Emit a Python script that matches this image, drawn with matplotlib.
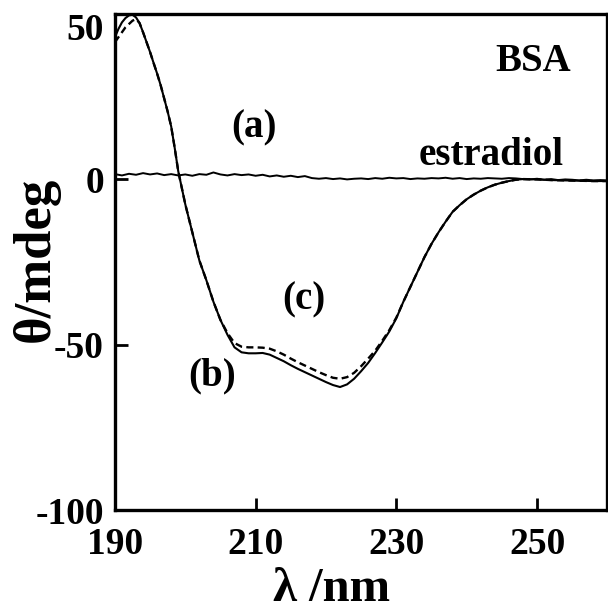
import matplotlib
matplotlib.use("Agg")
import matplotlib.pyplot as plt
import matplotlib.transforms as mtransforms

# ---- data ----
wl_b = [190, 190.5, 191, 191.5, 192, 192.5, 193, 193.5, 194, 194.5, 195, 195.5, 196, 196.5,
        197, 197.5, 198, 198.5, 199, 199.5, 200, 201, 202, 203, 204, 205, 206, 207, 208, 209,
        210, 211, 212, 213, 214, 215, 216, 217, 218, 219, 220, 221, 222, 223, 224, 225, 226,
        227, 228, 229, 230, 231, 232, 233, 234, 235, 236, 237, 238, 239, 240, 241, 242, 243,
        244, 245, 246, 247, 248, 250, 252, 254, 256, 258, 260]
theta_b = [43.0, 45.5, 47.5, 48.8, 49.6, 49.8, 49.0, 47.3, 44.5, 41.5, 38.5, 35.2, 32.0, 28.5,
           24.5, 20.5, 16.0, 9.5, 2.5, -2.5, -7.5, -16.0, -24.5, -30.5, -37.0, -42.5, -47.0,
           -50.8, -52.3, -52.6, -52.6, -52.5, -53.0, -54.0, -55.0, -56.2, -57.3, -58.3, -59.3,
           -60.3, -61.3, -62.2, -62.8, -62.0, -60.3, -58.0, -55.5, -52.5, -49.3, -46.0, -42.0,
           -37.0, -32.5, -28.0, -23.5, -19.5, -16.0, -12.8, -9.8, -7.8, -6.0, -4.6, -3.4, -2.4,
           -1.6, -1.0, -0.5, -0.1, 0.1, 0.0, -0.2, -0.3, -0.4, -0.5, -0.5]

wl_c = [190, 190.5, 191, 191.5, 192, 192.5, 193, 193.5, 194, 194.5, 195, 195.5, 196, 196.5,
        197, 197.5, 198, 198.5, 199, 199.5, 200, 201, 202, 203, 204, 205, 206, 207, 208, 209,
        210, 211, 212, 213, 214, 215, 216, 217, 218, 219, 220, 221, 222, 223, 224, 225, 226,
        227, 228, 229, 230, 231, 232, 233, 234, 235, 236, 237, 238, 239, 240, 241, 242, 243,
        244, 245, 246, 247, 248, 250, 252, 254, 256, 258, 260]
theta_c = [41.5, 43.0, 44.5, 46.0, 47.0, 48.0, 48.5, 47.3, 44.5, 41.5, 38.5, 35.2, 32.0, 28.5,
           24.5, 20.5, 16.0, 9.5, 2.5, -2.5, -7.5, -16.0, -24.5, -30.5, -37.0, -42.5, -46.5,
           -49.5, -50.6, -50.8, -50.8, -50.9, -51.2, -52.0, -53.0, -54.2, -55.3, -56.3, -57.3,
           -58.3, -59.2, -60.0, -60.3, -59.8, -58.5, -56.5, -54.2, -51.8, -48.8, -45.6, -41.8,
           -37.0, -32.5, -28.0, -23.5, -19.5, -16.0, -12.8, -9.8, -7.8, -6.0, -4.6, -3.4, -2.4,
           -1.6, -1.0, -0.5, -0.1, 0.1, 0.0, -0.2, -0.3, -0.4, -0.5, -0.5]

wl_a = list(range(190, 261))
theta_a = [1.6, 1.2, 1.7, 1.4, 1.9, 1.5, 1.8, 1.3, 1.6, 1.2, 1.5, 1.1, 1.6, 1.4, 2.1, 1.5,
           1.2, 1.6, 1.3, 1.5, 1.1, 1.4, 0.9, 1.2, 0.8, 1.1, 0.7, 1.0, 0.4, 0.2, 0.4, 0.1,
           0.3, 0.0, 0.2, 0.3, 0.1, 0.4, 0.2, 0.5, 0.3, 0.4, 0.1, 0.3, 0.2, 0.4, 0.3, 0.5,
           0.2, 0.4, 0.1, 0.3, 0.2, 0.4, 0.3, 0.2, 0.4, 0.3, 0.1, 0.0, 0.2, -0.1, 0.1, -0.2,
           0.0, -0.1, -0.3, -0.1, -0.3, -0.2, -0.3]

xticks = [190, 210, 230, 250]
yticks = [-100, -50, 0, 50]

# ---- figure ----
plt.rcParams['font.family'] = ['Liberation Serif', 'DejaVu Serif']
plt.rcParams['font.weight'] = 'bold'

fig = plt.figure(figsize=(6.08, 6.13), dpi=100)
ax = fig.add_axes([0.189, 0.168, 0.81, 0.809])

ax.plot(wl_a, theta_a, color='black', lw=1.4)
ax.plot(wl_b, theta_b, color='black', lw=1.5)
ax.plot(wl_c, theta_c, color='black', lw=1.7, linestyle=(0, (3, 1.8)))

ax.set_xlim(190, 260)
ax.set_ylim(-100, 50)
ax.set_xticks(xticks)
ax.set_yticks(yticks)
ax.set_xticklabels([str(v) for v in xticks], fontsize=27, fontweight='bold')
ax.set_yticklabels([str(v) for v in yticks], fontsize=27, fontweight='bold')
ax.tick_params(direction='in', length=9, width=2, pad=8)
ax.tick_params(axis='x', pad=12)

# nudge the top y label down a bit as in the reference
lbl50 = ax.get_yticklabels()[-1]
lbl50.set_transform(lbl50.get_transform() + mtransforms.ScaledTranslation(0, -12/100, fig.dpi_scale_trans))

for s in ax.spines.values():
    s.set_linewidth(2.4)

ax.set_xlabel('λ /nm', fontsize=35, fontweight='bold')
ax.xaxis.set_label_coords(0.44, -0.115)
ax.set_ylabel('θ/mdeg', fontsize=38, fontweight='bold')
ax.yaxis.set_label_coords(-0.112, 0.505)

ax.text(249.4, 35.7, 'BSA', fontsize=28, ha='center', va='center', fontweight='bold')
ax.text(209.7, 15.6, '(a)', fontsize=28, ha='center', va='center', fontweight='bold')
ax.text(243.5, 7.2, 'estradiol', fontsize=28, ha='center', va='center', fontweight='bold')
ax.text(216.8, -36.6, '(c)', fontsize=28, ha='center', va='center', fontweight='bold')
ax.text(203.8, -59.5, '(b)', fontsize=28, ha='center', va='center', fontweight='bold')

fig.savefig('out.png', dpi=100)
